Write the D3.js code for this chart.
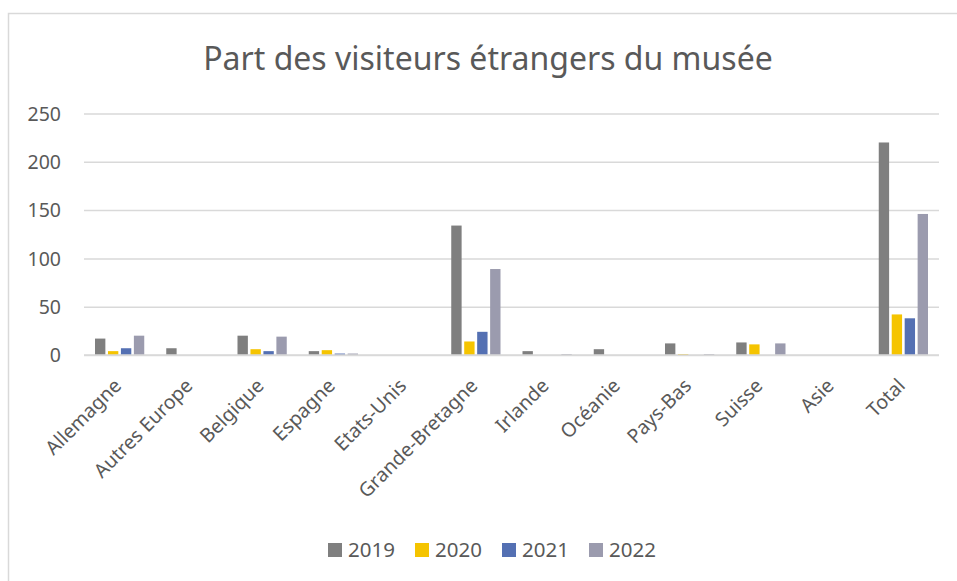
<!DOCTYPE html>
<html>
<head>
<meta charset="utf-8">
<script src="https://cdn.jsdelivr.net/npm/d3@7"></script>
<style>
  body { margin: 0; background: #fff; }
  text { font-family: "Noto Sans", "Open Sans", sans-serif; fill: #595959; }
</style>
</head>
<body>
<div id="container"></div>
<script>
let categories = ["Allemagne", "Autres Europe", "Belgique", "Espagne", "Etats-Unis", "Grande-Bretagne",
                  "Irlande", "Océanie", "Pays-Bas", "Suisse", "Asie", "Total"];
let years = ["2019", "2020", "2021", "2022"];
let v2019 = [17, 7, 20, 4, 0, 134, 4, 6, 12, 13, 0, 220];
let v2020 = [4, 0, 6, 5, 0, 14, 0, 0, 1, 11, 0, 42];
let v2021 = [7, 0, 4, 1.5, 0, 24, 0, 0, 0, 0, 0, 38];
let v2022 = [20, 0, 19, 1.5, 0, 89, 1, 0, 1, 12, 0, 146];
let yTicks = [0, 50, 100, 150, 200, 250];
let colors = ["#7f7f7f", "#f5c400", "#5470b3", "#9b9bae"];

let w = 957;
let h = 581;
let plotLeft = 84, plotRight = 939, plotTop = 113.5, plotBottom = 355;

let viz = d3.select("#container")
              .append("svg")
              .attr("width", w)
              .attr("height", h)
;

// chart border
viz.append("rect")
    .attr("x", 8.5).attr("y", 13.5)
    .attr("width", 1000).attr("height", 1000)
    .attr("fill", "white")
    .attr("stroke", "#d9d9d9")
    .attr("stroke-width", 1.5)
;

viz.append("text")
    .attr("x", 488).attr("y", 70)
    .attr("text-anchor", "middle")
    .style("font-size", "32px")
    .text("Part des visiteurs étrangers du musée")
;

let series = [v2019, v2020, v2021, v2022];
let data = categories.map(function(c, i) {
  return years.map(function(y, j) { return {cat: c, year: y, value: series[j][i]}; });
});

let xScale = d3.scaleBand().domain(categories).range([plotLeft, plotRight]);
let x1 = d3.scaleBand().domain(years).range([11, xScale.bandwidth() - 11]).paddingInner(0.2);
let yScale = d3.scaleLinear().domain([0, 250]).range([plotBottom, plotTop]);

// gridlines + y labels
let yAxis = d3.axisLeft(yScale).tickValues(yTicks).tickSize(-(plotRight - plotLeft)).tickPadding(23);
let yAxisGroup = viz.append("g")
                      .attr("class", "yaxisgroup")
                      .attr("transform", "translate(" + plotLeft + ",0)")
                      .call(yAxis)
;
yAxisGroup.select(".domain").remove();
yAxisGroup.selectAll("line").attr("stroke", "#d9d9d9").attr("stroke-width", 1.5);
yAxisGroup.selectAll("text").style("font-size", "19.5px").attr("fill", "#595959").attr("dy", "0.35em");

// x labels
let xAxis = d3.axisBottom(xScale).tickSize(0);
let xAxisGroup = viz.append("g")
                      .attr("class", "xaxisgroup")
                      .attr("transform", "translate(0," + plotBottom + ")")
                      .call(xAxis)
;
xAxisGroup.select(".domain").remove();
xAxisGroup.selectAll("text")
    .style("font-size", "19.5px")
    .attr("fill", "#595959")
    .attr("text-anchor", "end")
    .attr("y", 0)
    .attr("dy", 0)
    .attr("transform", "translate(3,32) rotate(-45)")
;

// bars
let groups = viz.append("g").selectAll(".grp").data(data).enter()
                  .append("g")
                  .attr("class", "grp")
                  .attr("transform", function(d) { return "translate(" + xScale(d[0].cat) + ",0)"; })
;
groups.selectAll("rect").data(function(d) { return d; }).enter()
    .append("rect")
    .attr("x", function(d) { return x1(d.year); })
    .attr("width", x1.bandwidth())
    .attr("y", function(d) { return yScale(d.value); })
    .attr("height", function(d) { return plotBottom - yScale(d.value); })
    .attr("fill", function(d, i) { return colors[i]; })
;

// baseline over bars
viz.append("line")
    .attr("x1", plotLeft).attr("x2", plotRight)
    .attr("y1", yScale(0)).attr("y2", yScale(0))
    .attr("stroke", "#d9d9d9").attr("stroke-width", 1.5)
;

// legend
let legendX = [328, 415, 502, 589];
let legend = viz.append("g").selectAll(".leg").data(years).enter()
                  .append("g")
                  .attr("transform", function(d, i) { return "translate(" + legendX[i] + ",550)"; })
;
legend.append("rect")
    .attr("x", 0).attr("y", -7)
    .attr("width", 14).attr("height", 14)
    .attr("fill", function(d, i) { return colors[i]; })
;
legend.append("text")
    .attr("x", 20).attr("y", 0).attr("dy", "0.35em")
    .style("font-size", "20.5px")
    .text(function(d) { return d; })
;
</script>
</body>
</html>
